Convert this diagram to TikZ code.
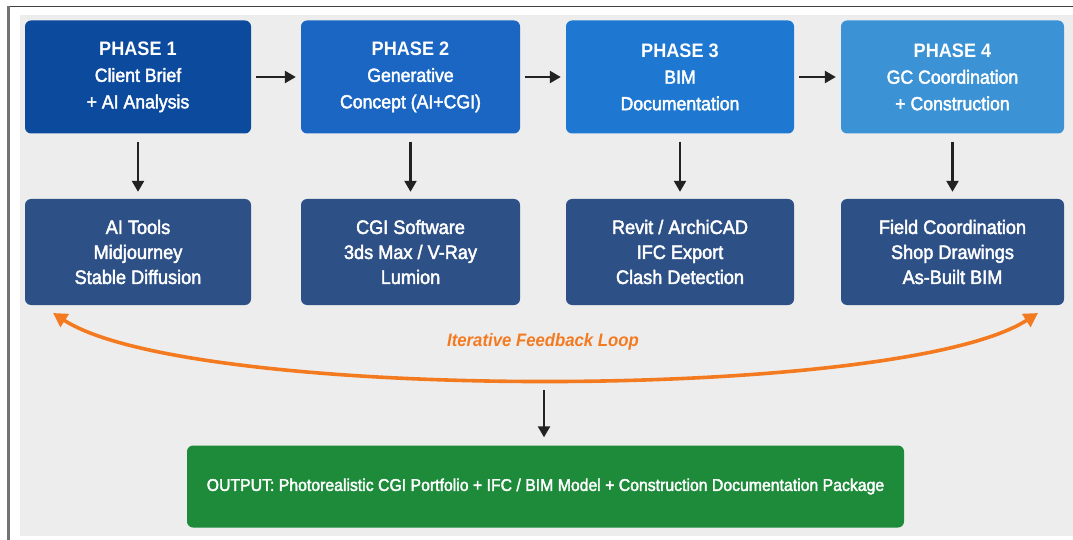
\documentclass[tikz,border=0pt]{standalone}
\usepackage{fontspec}
\setmainfont{Liberation Sans}
\newfontfamily\semifont[FakeBold=2.2,FakeStretch=0.93]{Liberation Sans}
\newfontfamily\headfont[FakeStretch=0.93]{Liberation Sans}
\usetikzlibrary{arrows.meta}
\definecolor{panel}{HTML}{EDEDED}
\definecolor{pone}{HTML}{0C4A9D}
\definecolor{ptwo}{HTML}{1A66C2}
\definecolor{pthree}{HTML}{1E77D0}
\definecolor{pfour}{HTML}{3B92D5}
\definecolor{tool}{HTML}{2D5186}
\definecolor{outgreen}{HTML}{1D8B3A}
\definecolor{loop}{HTML}{F47A20}
\definecolor{arr}{HTML}{222222}
\tikzset{
  phasebox/.style={rounded corners=6pt, text=white, align=center, inner sep=0pt},
  toolbox/.style={rounded corners=6pt, fill=tool, text=white, align=center, inner sep=0pt},
  flowarrow/.style={draw=arr, line width=2.4pt, -{Triangle[length=11pt,width=12pt]}},
  loopline/.style={draw=loop, line width=3.6pt, {Triangle[length=14pt,width=15pt]}-{Triangle[length=14pt,width=15pt]}},
  phfont/.style={font=\semifont\fontsize{19}{26.5}\selectfont},
  tlfont/.style={font=\semifont\fontsize{19.5}{25}\selectfont},
}
\newcommand{\phead}[1]{{\headfont\bfseries\fontsize{19.5}{28}\selectfont #1}}
\begin{document}
\begin{tikzpicture}[x=1pt,y=-1pt]
\useasboundingbox (0,0) rectangle (1073,540);
\fill[white] (0,0) rectangle (1073,540);
\fill[panel] (20,15) rectangle (1073,536);
\draw[draw=black!75, line width=1.5pt] (8,6.5) -- (1073,6.5);
\draw[draw=black!55, line width=2.5pt] (8.5,6) -- (8.5,540);
% phase boxes
\node[phasebox, fill=pone, minimum width=226pt, minimum height=113pt, phfont] (p1) at (138,77) {\phead{PHASE 1}\\Client Brief\\+ AI Analysis};
\node[phasebox, fill=ptwo, minimum width=219pt, minimum height=113pt, phfont] (p2) at (410.5,77) {\phead{PHASE 2}\\Generative\\Concept (AI+CGI)};
\node[phasebox, fill=pthree, minimum width=228pt, minimum height=113pt, phfont] (p3) at (680,77) {\phead{PHASE 3}\\BIM\\Documentation};
\node[phasebox, fill=pfour, minimum width=223pt, minimum height=113pt, phfont] (p4) at (952.5,77) {\phead{PHASE 4}\\GC Coordination\\+ Construction};
% tool boxes
\node[toolbox, minimum width=226pt, minimum height=106pt, tlfont] (t1) at (138,252) {AI Tools\\Midjourney\\Stable Diffusion};
\node[toolbox, minimum width=219pt, minimum height=106pt, tlfont] (t2) at (410.5,252) {CGI Software\\3ds Max / V-Ray\\Lumion};
\node[toolbox, minimum width=228pt, minimum height=106pt, tlfont] (t3) at (680,252) {Revit / ArchiCAD\\IFC Export\\Clash Detection};
\node[toolbox, minimum width=223pt, minimum height=106pt, tlfont] (t4) at (952.5,252) {Field Coordination\\Shop Drawings\\As-Built BIM};
% output
\node[rounded corners=6pt, fill=outgreen, text=white, minimum width=717pt, minimum height=82pt, inner sep=0pt, font=\semifont\fontsize{17}{20}\selectfont] (out) at (545.5,486.5) {OUTPUT: Photorealistic CGI Portfolio + IFC / BIM Model + Construction Documentation Package};
% horizontal arrows
\draw[flowarrow, shorten <=5pt, shorten >=5pt] (p1.east) -- (p2.west);
\draw[flowarrow, shorten <=5pt, shorten >=5pt] (p2.east) -- (p3.west);
\draw[flowarrow, shorten <=5pt, shorten >=5pt] (p3.east) -- (p4.west);
% vertical arrows
\draw[flowarrow, shorten <=8pt, shorten >=7pt] (p1.south) -- (t1.north);
\draw[flowarrow, shorten <=8pt, shorten >=7pt] (p2.south) -- (t2.north);
\draw[flowarrow, shorten <=8pt, shorten >=7pt] (p3.south) -- (t3.north);
\draw[flowarrow, shorten <=8pt, shorten >=7pt] (p4.south) -- (t4.north);
% feedback loop
\coordinate (fbL) at (53,313);
\coordinate (fbR) at (1038,313);
\draw[loopline] (fbL) .. controls (190,402) and (900,402) .. (fbR);
\node[text=loop, font=\headfont\fontsize{18}{20}\selectfont\bfseries\itshape] (lbl) at (543,342) {Iterative Feedback Loop};
% output arrow
\coordinate (oa) at (544,390);
\draw[flowarrow, shorten >=8pt] (oa) -- (out.north -| oa);
\end{tikzpicture}
\end{document}
